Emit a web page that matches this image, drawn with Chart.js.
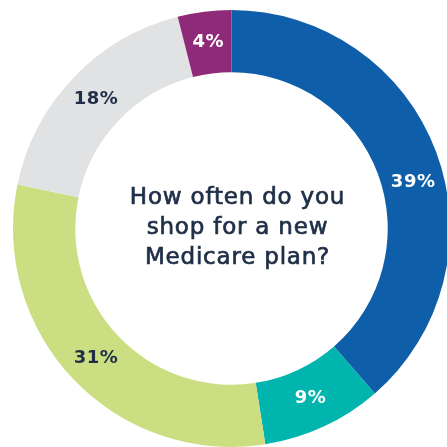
<!DOCTYPE html>
<html>
<head>
<meta charset="utf-8">
<script src="https://cdn.jsdelivr.net/npm/chart.js@4"></script>
<style>
  html, body { margin: 0; padding: 0; background: #fff; overflow: hidden; width: 447px; height: 447px; }
  #wrap { position: absolute; left: 13px; top: 10px; width: 437px; height: 437px; }
</style>
</head>
<body>
<div id="wrap"><canvas id="chartShop"></canvas></div>
<script>
const categories = ['Every year', 'Every 2 years', 'Every few years', 'Never', "Don't know"];
const shares     = [39, 9, 31, 18, 4];
const colors     = ['#0e5ea9', '#00b5ad', '#cbdf82', '#e1e2e3', '#8e2a78'];
const labelInk   = ['#ffffff', '#ffffff', '#1f2f47', '#1f2f47', '#ffffff'];
const centerText = ['How often do you', 'shop for a new', 'Medicare plan?'];

const font = "'DejaVu Sans', sans-serif";

const sliceLabels = {
  id: 'sliceLabels',
  afterDatasetsDraw(chart) {
    const ctx = chart.ctx;
    const arcs = chart.getDatasetMeta(0).data;
    ctx.save();
    ctx.font = `bold 18px ${font}`;
    ctx.letterSpacing = '0.5px';
    ctx.textAlign = 'center';
    ctx.textBaseline = 'middle';
    arcs.forEach((arc, i) => {
      const { x, y, startAngle, endAngle, innerRadius, outerRadius } = arc.getProps(['x', 'y', 'startAngle', 'endAngle', 'innerRadius', 'outerRadius']);
      // the big slice label sits a little past the middle of its arc
      const mid = (startAngle + endAngle) / 2 + (i === 0 ? 0.11 : 0);
      const r = (innerRadius + outerRadius) / 2;
      ctx.fillStyle = labelInk[i];
      ctx.fillText(shares[i] + '%', x + Math.cos(mid) * r, y + Math.sin(mid) * r);
    });
    ctx.restore();
  }
};

const centerLabel = {
  id: 'centerLabel',
  afterDraw(chart) {
    const ctx = chart.ctx;
    const a = chart.chartArea;
    const cx = (a.left + a.right) / 2 + 6;
    const cy = (a.top + a.bottom) / 2;
    ctx.save();
    ctx.font = `23px ${font}`;
    ctx.letterSpacing = '0.8px';
    ctx.fillStyle = '#1f2f47';
    ctx.strokeStyle = '#1f2f47';
    ctx.lineWidth = 0.7;
    ctx.textAlign = 'center';
    ctx.textBaseline = 'middle';
    centerText.forEach((line, i) => {
      ctx.fillText(line, cx, cy + (i - 1) * 30);
      ctx.strokeText(line, cx, cy + (i - 1) * 30);
    });
    ctx.restore();
  }
};

new Chart(document.getElementById('chartShop'), {
  type: 'doughnut',
  data: {
    labels: categories,
    datasets: [{ data: shares, backgroundColor: colors, borderWidth: 0 }]
  },
  options: {
    responsive: true, maintainAspectRatio: false, animation: false,
    cutout: '71.5%',
    layout: { padding: 0 },
    plugins: { legend: { display: false }, tooltip: { enabled: false } }
  },
  plugins: [sliceLabels, centerLabel]
});
</script>
</body>
</html>
